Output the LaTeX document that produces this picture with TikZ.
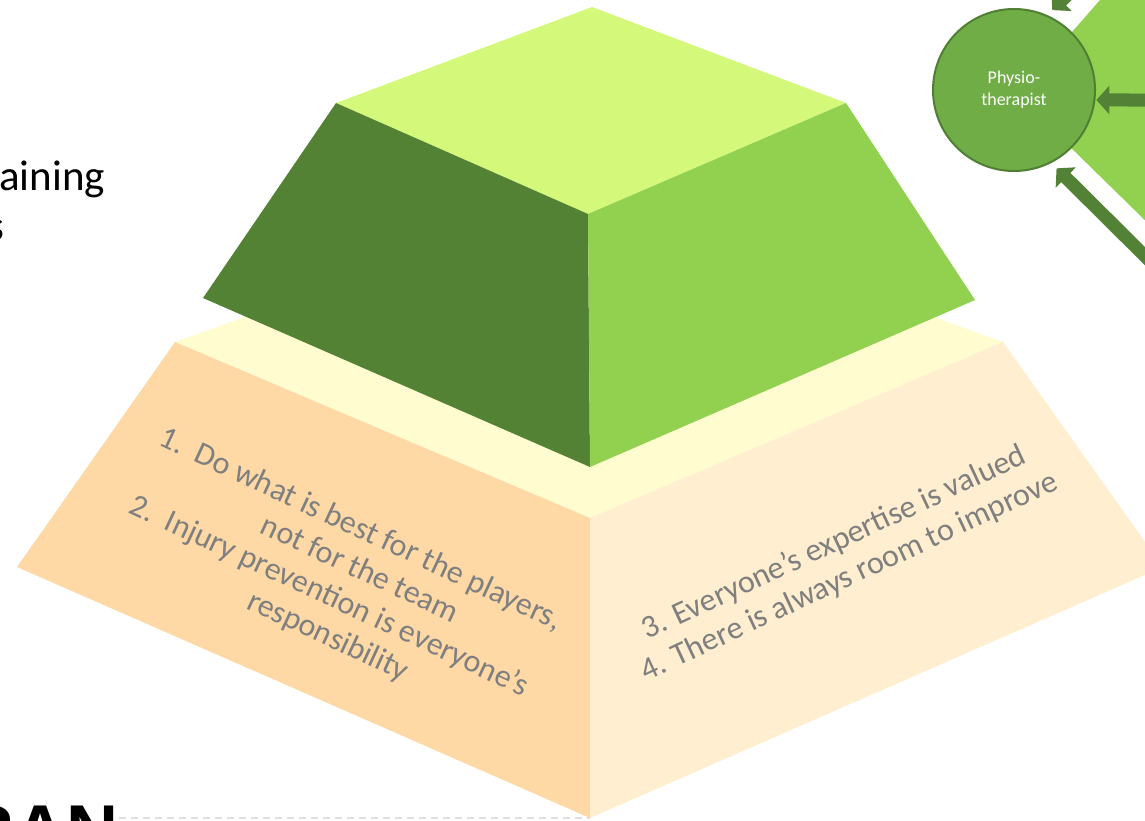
\documentclass[tikz,border=0pt]{standalone}
\usepackage{fontspec}
\setmainfont{Carlito}
\newfontfamily\bannerfont{Liberation Sans}
\usetikzlibrary{arrows.meta,calc}
\definecolor{topgreen}{HTML}{D4F97A}
\definecolor{darkgreen}{HTML}{548235}
\definecolor{midgreen}{HTML}{92D050}
\definecolor{circlegreen}{HTML}{70AD47}
\definecolor{circleedge}{HTML}{507E32}
\definecolor{arrowgreen}{HTML}{538135}
\definecolor{creamtop}{HTML}{FFFCCF}
\definecolor{orangeside}{HTML}{FED9A6}
\definecolor{creamside}{HTML}{FFEECF}
\definecolor{textgray}{HTML}{7F7F7F}

\begin{document}
\begin{tikzpicture}[x=1pt,y=-1pt,
    pointtext/.style={text=textgray,align=center,inner sep=0pt,font=\fontsize{32}{37}\selectfont},
    blockarrow/.style={arrowgreen,line width=13pt,-{Triangle[length=13pt,width=28pt]}}]
    \useasboundingbox (0,0) rectangle (1145,820);
    \clip (0,0) rectangle (1145,820);

    % Heading fragments
    \node[anchor=base west,inner sep=0pt,font=\fontsize{43}{52}\selectfont] (title) at (-1,190) {aining};
    \node[anchor=base east,inner sep=0pt,font=\fontsize{43}{52}\selectfont] (titlecont) at (5,240) {s};
    \node[anchor=north east,inner sep=0pt,font=\bannerfont\bfseries\fontsize{72}{80}\selectfont] (banner) at (119,806) {RAN};
    \draw[gray!25,line width=1.5pt,dash pattern=on 7pt off 5pt] (banner.north east |- 0,818) -- (590,818);

    % Lower level
    \fill[creamtop] (590,192) -- (1003,342) -- (590,518) -- (175,342) -- cycle;
    \fill[orangeside] (175,342) -- (590,518) -- (590,818) -- (17,567) -- cycle;
    \fill[creamside] (590,518) -- (1003,342) -- (1163,567) -- (590,818) -- cycle;

    % Upper level
    \fill[topgreen] (592,7) -- (846,103) -- (588,214) -- (336,103) -- cycle;
    \fill[darkgreen] (336,103) -- (588,214) -- (590,467) -- (203,298) -- cycle;
    \fill[midgreen] (588,214) -- (846,103) -- (975,300) -- (590,467) -- cycle;

    % Principles
    \node[pointtext,rotate=-25] (rules) at (337,580) {1.\ \ Do what is best for the players,\\ \hspace*{32pt}not for the team\\ 2.\ \ Injury prevention is everyone’s\\ \hspace*{32pt}responsibility};
    \node[pointtext,rotate=25] (values) at (842,560) {3. Everyone’s expertise is valued\\ 4. There is always room to improve};

    % Physiotherapist corner
    \fill[midgreen] (1017,95) -- (1100,0) -- (1250,0) -- (1250,323) -- cycle;
    \node[circle,fill=circlegreen,draw=circleedge,line width=2pt,minimum size=162pt,inner sep=0pt,
          text=white,align=center,font=\fontsize{18}{22}\selectfont] (physio) at (1014,90) {Physio-\\therapist};
    \coordinate (topin) at (1112,-50);
    \coordinate (sidein) at (1175,100);
    \coordinate (lowin) at (1170,281);
    \draw[blockarrow,shorten >=7pt] (topin) -- (physio.66);
    \draw[blockarrow,shorten >=1pt] (sidein) -- (physio.-7);
    \draw[blockarrow,shorten >=7.5pt] (lowin) -- (physio.-63);
\end{tikzpicture}
\end{document}
